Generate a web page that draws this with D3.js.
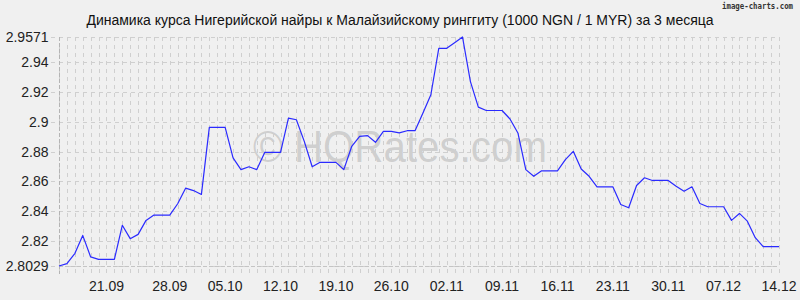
<!DOCTYPE html>
<html>
<head>
<meta charset="utf-8">
<title>NGN / MYR</title>
<script src="https://cdn.jsdelivr.net/npm/d3@7"></script>
<style>
  body { margin: 0; background: #f0f0f0; }
  svg { display: block; font-family: "Liberation Sans", Arial, sans-serif; }
</style>
</head>
<body>
<div id="chart"></div>
<script>
const width = 800, height = 300;
const plotLeft = 59, plotRight = 779, plotTop = 37, plotBottom = 266;

const title = "Динамика курса Нигерийской найры к Малайзийскому ринггиту (1000 NGN / 1 MYR) за 3 месяца";

// курс, одна точка на день
const rates = [
  2.8029, 2.8045, 2.8113, 2.8235, 2.8090, 2.8074, 2.8074, 2.8074, 2.8303, 2.8213,
  2.8242, 2.8336, 2.8372, 2.8372, 2.8372, 2.8448, 2.8553, 2.8537, 2.8511, 2.8962,
  2.8962, 2.8962, 2.8757, 2.8678, 2.8697, 2.8678, 2.8794, 2.8794, 2.8794, 2.9025,
  2.9014, 2.8868, 2.8697, 2.8727, 2.8727, 2.8727, 2.8678, 2.8835, 2.8902, 2.8907,
  2.8862, 2.8935, 2.8935, 2.8925, 2.8940, 2.8940, 2.9059, 2.9182, 2.9495, 2.9495,
  2.9533, 2.9571, 2.9271, 2.9099, 2.9076, 2.9076, 2.9076, 2.9019, 2.8925, 2.8678,
  2.8633, 2.8670, 2.8670, 2.8670, 2.8745, 2.8801, 2.8682, 2.8633, 2.8562, 2.8562,
  2.8562, 2.8443, 2.8421, 2.8571, 2.8623, 2.8605, 2.8605, 2.8605, 2.8566, 2.8533,
  2.8562, 2.8450, 2.8428, 2.8428, 2.8428, 2.8336, 2.8383, 2.8331, 2.8220, 2.8160,
  2.8160, 2.8160
];

const dateLabels = ["21.09", "28.09", "05.10", "12.10", "19.10", "26.10", "02.11",
  "09.11", "16.11", "23.11", "30.11", "07.12", "14.12"];
const dateIndex = [6, 14, 21, 28, 35, 42, 49, 56, 63, 70, 77, 84, 91];

const yTicks = [2.82, 2.84, 2.86, 2.88, 2.9, 2.92, 2.94];

const [yMin, yMax] = d3.extent(rates);
const yValues = [yMin].concat(yTicks, [yMax]);

const x = d3.scaleLinear().domain([0, rates.length - 1]).range([plotLeft, plotRight]);
const y = d3.scaleLinear().domain([yMin, yMax]).range([plotBottom, plotTop]);

const svg = d3.select("#chart")
    .append("svg")
    .attr("width", width)
    .attr("height", height);

svg.append("rect")
    .attr("width", width)
    .attr("height", height)
    .attr("fill", "#f0f0f0");

// watermark
svg.append("text")
    .attr("x", 400)
    .attr("y", 162)
    .attr("text-anchor", "middle")
    .attr("font-size", "44px")
    .attr("fill", "#888")
    .attr("fill-opacity", 0.33)
    .attr("textLength", 294)
    .attr("lengthAdjust", "spacingAndGlyphs")
    .text("© HQRates.com");

const grid = svg.append("g")
    .attr("stroke", "#cfcfcf")
    .attr("stroke-width", 1)
    .attr("stroke-dasharray", "4,4")
    .attr("shape-rendering", "crispEdges");

grid.selectAll("line.v")
    .data(d3.range(rates.length))
    .join("line")
    .attr("class", "v")
    .attr("x1", d => Math.round(x(d)) + 0.5)
    .attr("x2", d => Math.round(x(d)) + 0.5)
    .attr("y1", plotTop)
    .attr("y2", plotBottom + 8);

grid.selectAll("line.h")
    .data(yValues)
    .join("line")
    .attr("class", "h")
    .attr("x1", plotLeft - 8)
    .attr("x2", plotRight)
    .attr("y1", d => Math.round(y(d)) + 0.5)
    .attr("y2", d => Math.round(y(d)) + 0.5);

// axes
svg.append("line")
    .attr("x1", plotLeft + 0.5).attr("x2", plotLeft + 0.5)
    .attr("y1", plotTop).attr("y2", plotBottom + 8)
    .attr("stroke", "#b4b4b4")
    .attr("stroke-dasharray", "4,2")
    .attr("shape-rendering", "crispEdges");

svg.append("line")
    .attr("x1", plotLeft).attr("x2", plotRight)
    .attr("y1", plotBottom + 0.5).attr("y2", plotBottom + 0.5)
    .attr("stroke", "#c4c4c4")
    .attr("stroke-dasharray", "4,2")
    .attr("shape-rendering", "crispEdges");

svg.append("g")
    .selectAll("text")
    .data(yValues)
    .join("text")
    .attr("x", 48.5)
    .attr("y", d => y(d) + 5)
    .attr("text-anchor", "end")
    .attr("font-size", "14px")
    .attr("fill", "#222")
    .text(d => String(d));

svg.append("g")
    .selectAll("text")
    .data(dateIndex)
    .join("text")
    .attr("x", d => x(d))
    .attr("y", 290.5)
    .attr("text-anchor", "middle")
    .attr("font-size", "14px")
    .attr("fill", "#222")
    .text((d, i) => dateLabels[i]);

const line = d3.line()
    .x((d, i) => x(i))
    .y(d => y(d));

svg.append("path")
    .datum(rates)
    .attr("fill", "none")
    .attr("stroke", "#2a2aff")
    .attr("stroke-width", 1.2)
    .attr("stroke-linejoin", "round")
    .attr("d", line);

svg.append("text")
    .attr("x", 400)
    .attr("y", 25)
    .attr("text-anchor", "middle")
    .attr("font-size", "14px")
    .attr("fill", "#111")
    .text(title);

svg.append("text")
    .attr("x", 722)
    .attr("y", 8.5)
    .attr("font-family", "'DejaVu Sans Mono', monospace")
    .attr("font-weight", "bold")
    .attr("font-size", "8px")
    .attr("fill", "#333")
    .attr("textLength", 71)
    .attr("lengthAdjust", "spacingAndGlyphs")
    .text("image-charts.com");
</script>
</body>
</html>
